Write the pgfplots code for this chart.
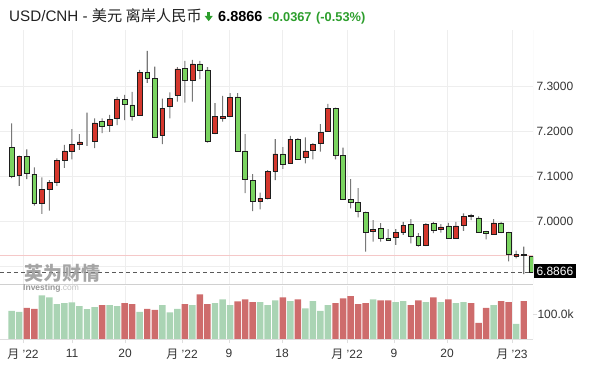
\documentclass[border=0pt]{standalone}
\usepackage{pgfplots}
\pgfplotsset{compat=1.18}
\usepackage{pgfplotstable}
\usepackage{fontspec}
\setmainfont{Liberation Sans}
\newfontfamily\cjk{Noto Sans CJK SC}
\definecolor{cred}{RGB}{213,55,45}
\definecolor{cgreen}{RGB}{122,212,96}
\definecolor{outc}{RGB}{30,30,30}
\definecolor{wickc}{RGB}{120,120,120}
\definecolor{volg}{RGB}{170,212,180}
\definecolor{volr}{RGB}{206,108,108}
\definecolor{gridc}{RGB}{238,238,238}
\definecolor{pinkc}{RGB}{245,200,200}
\definecolor{dashc}{RGB}{90,90,90}
\definecolor{labc}{RGB}{51,51,51}
\definecolor{bordc}{RGB}{222,222,222}
\definecolor{sepc}{RGB}{208,208,208}
\definecolor{upc}{RGB}{44,158,44}
\definecolor{wmc}{RGB}{150,150,150}
\definecolor{titc}{RGB}{34,34,34}

\pgfplotstableread{
i o h l c
1 7.164 7.217 7.095 7.100
2 7.101 7.145 7.078 7.143
3 7.143 7.159 7.093 7.107
4 7.104 7.119 7.034 7.039
5 7.039 7.097 7.016 7.070
6 7.071 7.091 7.023 7.086
7 7.085 7.139 7.078 7.134
8 7.134 7.169 7.118 7.156
9 7.155 7.204 7.137 7.170
10 7.171 7.193 7.158 7.176
11 7.176 7.241 7.167 7.176
12 7.178 7.228 7.162 7.218
13 7.222 7.228 7.195 7.211
14 7.212 7.236 7.198 7.226
15 7.228 7.276 7.213 7.270
16 7.270 7.280 7.224 7.259
17 7.258 7.287 7.223 7.232
18 7.236 7.336 7.234 7.330
19 7.330 7.378 7.307 7.318
20 7.317 7.343 7.185 7.187
21 7.191 7.272 7.171 7.251
22 7.254 7.286 7.228 7.272
23 7.280 7.342 7.265 7.338
24 7.339 7.356 7.263 7.313
25 7.312 7.358 7.265 7.349
26 7.349 7.356 7.315 7.334
27 7.336 7.342 7.174 7.178
28 7.195 7.262 7.193 7.233
29 7.228 7.278 7.221 7.233
30 7.233 7.284 7.231 7.275
31 7.276 7.284 7.154 7.156
32 7.156 7.193 7.062 7.093
33 7.091 7.104 7.022 7.044
34 7.044 7.063 7.026 7.050
35 7.050 7.113 7.048 7.110
36 7.111 7.182 7.091 7.149
37 7.149 7.164 7.116 7.126
38 7.128 7.189 7.127 7.182
39 7.182 7.184 7.136 7.138
40 7.141 7.186 7.128 7.156
41 7.158 7.173 7.137 7.170
42 7.172 7.215 7.154 7.197
43 7.200 7.260 7.199 7.250
44 7.250 7.252 7.137 7.147
45 7.145 7.163 7.047 7.048
46 7.048 7.093 7.028 7.041
47 7.041 7.073 7.008 7.021
48 7.019 7.021 6.932 6.976
49 6.978 7.002 6.954 6.982
50 6.984 6.995 6.954 6.962
51 6.962 6.982 6.957 6.958
52 6.963 6.982 6.947 6.974
53 6.974 6.998 6.969 6.990
54 6.992 7.004 6.950 6.965
55 6.965 6.973 6.943 6.945
56 6.945 6.995 6.944 6.993
57 6.995 6.998 6.973 6.980
58 6.982 6.993 6.974 6.987
59 6.989 6.996 6.961 6.962
60 6.962 6.998 6.961 6.989
61 6.991 7.017 6.978 7.011
62 7.013 7.016 7.002 7.010
63 7.007 7.010 6.975 6.976
64 6.977 6.978 6.959 6.973
65 6.970 7.004 6.969 6.996
66 6.996 6.998 6.973 6.974
67 6.974 6.976 6.910 6.926
68 6.922 6.934 6.917 6.926
69 6.926 6.943 6.882 6.9233
70 6.921 6.922 6.8866 6.8866
}\candles

\pgfplotstableread{
i v
1 114
2 110
5 176
6 168
7 141
8 145
9 148
10 133
11 121
12 129
14 137
15 133
18 110
21 137
22 108
23 122
25 137
28 145
29 160
30 137
34 149
35 137
36 156
38 153
40 124
41 153
42 114
43 137
49 160
52 149
53 153
56 149
58 149
60 145
61 149
65 137
68 62
}\volgreen

\pgfplotstableread{
i v
3 126
4 122
13 137
16 145
17 141
19 122
20 118
24 141
26 180
27 141
31 152
32 160
33 149
37 168
39 160
44 145
45 164
46 173
47 141
48 145
50 156
51 156
54 137
55 156
57 168
59 160
62 145
63 66
64 126
66 153
67 149
69 153
}\volred

\pgfplotsset{
  panel/.style={anchor=south west, scale only axis, width=533pt,
    xmin=-0.554, xmax=70.23},
  pricepanel/.style={panel, at={(0pt,98pt)}, height=254pt, ymin=6.86, ymax=7.42444},
}
\def\xt{2.50,9.01,16.05,23.62,29.86,36.90,45.53,51.77,58.81,67.44}

\begin{document}
\begin{tikzpicture}
\useasboundingbox (0pt,0pt) rectangle (600pt,382pt);

% ---- price panel: grid, labels, reference lines
\begin{axis}[pricepanel,
  axis line style={draw=none},
  xtick/.expand once=\xt, xticklabels={},
  ytick={6.9,7.0,7.1,7.2,7.3},
  yticklabels={,7.0000,7.1000,7.2000,7.3000},
  ytick pos=right, yticklabel pos=right,
  grid=major, grid style={draw=gridc, line width=0.8pt},
  major tick length=0pt,
  yticklabel style={font=\fontsize{12}{14}\selectfont, text=labc, anchor=west, xshift=0pt}]
\addplot[pinkc, line width=0.8pt] coordinates {(-0.554,6.9233) (70.23,6.9233)};
\addplot[dashc, dash pattern=on 4pt off 3pt, line width=0.7pt] coordinates {(-0.554,6.8866) (70.23,6.8866)};
\draw[bordc, line width=0.8pt] (rel axis cs:1,0) -- (rel axis cs:1,1);
\end{axis}

% ---- wicks
\begin{axis}[pricepanel, hide axis, ybar stacked, bar width=0.14]
\addplot[draw=none, fill=none] table[x=i, y=l] {\candles};
\addplot[draw=none, fill=wickc] table[x=i, y expr={\thisrow{h}-\thisrow{l}}] {\candles};
\end{axis}

% ---- bodies
\begin{axis}[pricepanel, hide axis, ybar stacked, bar width=0.64]
\addplot[draw=none, fill=none] table[x=i, y expr={min(\thisrow{o},\thisrow{c})}] {\candles};
\addplot[fill=cred, draw=outc, line width=0.5pt] table[x=i, y expr={max(\thisrow{c}-\thisrow{o},0)}] {\candles};
\addplot[fill=cgreen, draw=outc, line width=0.5pt] table[x=i, y expr={max(\thisrow{o}-\thisrow{c},0)}] {\candles};
\end{axis}

% ---- volume panel
\begin{axis}[panel, at={(0pt,42.7pt)}, height=53.3pt, ymin=0, ymax=213.2,
  axis line style={draw=none},
  xtick/.expand once=\xt,
  xticklabels={{{\cjk 月} '22},11,20,{{\cjk 月} '22},9,18,{{\cjk 月} '22},9,20,{{\cjk 月} '23}},
  ytick={100}, yticklabels={100.0k},
  xtick pos=left, ytick pos=right, yticklabel pos=right,
  tick align=outside, major tick length=4pt, tick style={draw=bordc, line width=0.8pt},
  xmajorgrids, grid style={draw=gridc, line width=0.8pt},
  xticklabel style={font=\fontsize{12}{14}\selectfont, text=labc, yshift=-2pt},
  yticklabel style={font=\fontsize{12}{14}\selectfont, text=labc, anchor=west, xshift=-3pt}]
\addplot[ybar, bar width=0.86, bar shift=0pt, fill=volg, draw=none] table[x=i, y=v] {\volgreen};
\addplot[ybar, bar width=0.86, bar shift=0pt, fill=volr, draw=none] table[x=i, y=v] {\volred};
\draw[bordc, line width=0.8pt] (rel axis cs:0,0) -- (rel axis cs:1,0);
\draw[bordc, line width=0.8pt] (rel axis cs:1,0) -- (rel axis cs:1,1);
\end{axis}

% separator between panels
\draw[sepc, line width=1.6pt] (0pt,97.6pt) -- (533pt,97.6pt);

% watermark
\node[anchor=west, inner sep=0pt, text=wmc, opacity=0.85, font=\cjk\bfseries\fontsize{19}{20}\selectfont] at (24pt,109pt) {英为财情};
\node[anchor=west, inner sep=0pt, text=wmc, font=\bfseries\fontsize{8.5}{9}\selectfont] at (23pt,94pt) {Investing\textcolor{wmc!60}{\mdseries.com}};

% current price box
\node[anchor=west, fill=black, text=white, font=\fontsize{12}{13}\selectfont, inner xsep=2.8pt, inner ysep=2.5pt] at (533.5pt,111pt) {6.8866};

% title
\node[anchor=base west, inner sep=0pt, text=titc, font=\fontsize{15.2}{17}\selectfont] at (9pt,360.5pt) {USD/CNH - {\cjk 美元 离岸人民币}};
\fill[upc] (207.2pt,369.5pt) rectangle (210.2pt,365.5pt);
\fill[upc] (204.7pt,366pt) -- (212.7pt,366pt) -- (208.7pt,360.8pt) -- cycle;
\node[anchor=base west, inner sep=0pt, font=\bfseries\fontsize{14.5}{16}\selectfont] at (218pt,360.5pt) {6.8866};
\node[anchor=base west, inner sep=0pt, text=upc, font=\bfseries\fontsize{12.8}{14}\selectfont] at (268pt,360.5pt) {-0.0367};
\node[anchor=base west, inner sep=0pt, text=upc, font=\bfseries\fontsize{12.8}{14}\selectfont] at (316pt,360.5pt) {(-0.53\%)};
\end{tikzpicture}
\end{document}
